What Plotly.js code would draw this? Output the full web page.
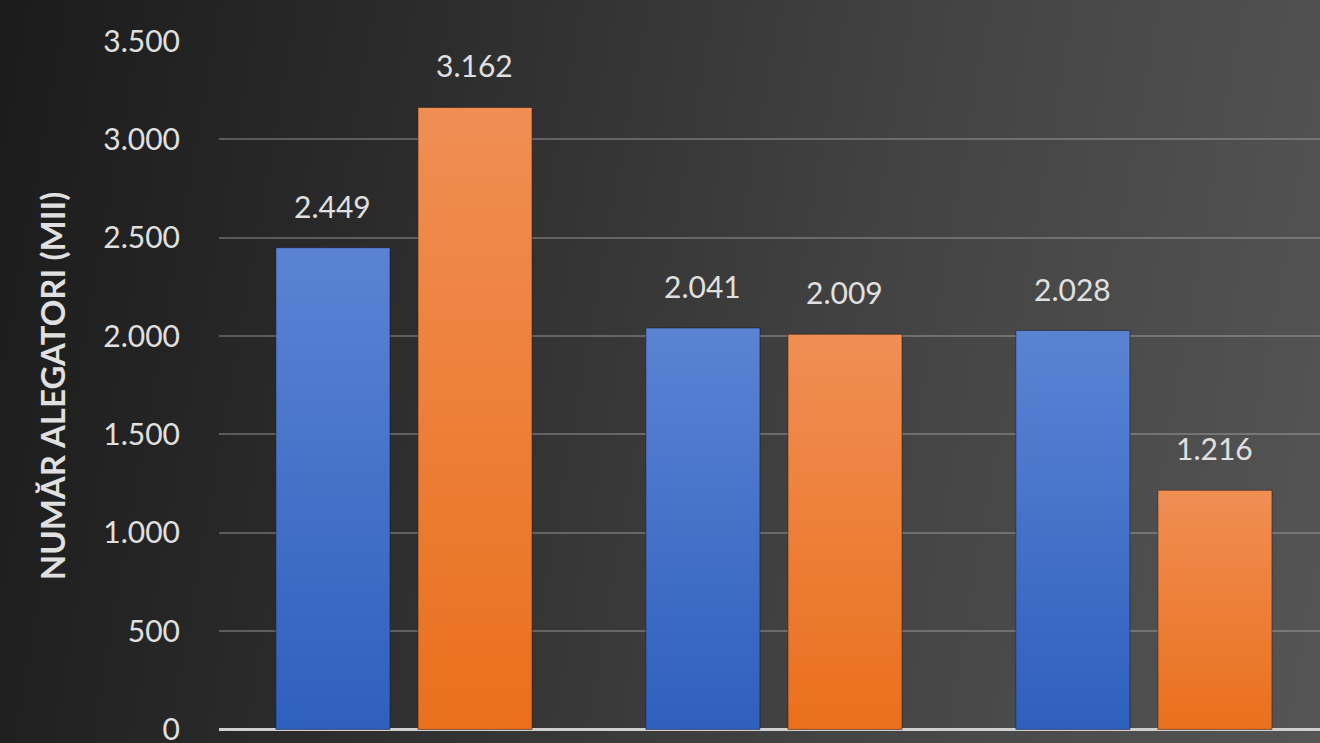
<!DOCTYPE html>
<html>
<head>
<meta charset="utf-8">
<script src="https://cdn.plot.ly/plotly-3.0.1.min.js"></script>
<style>
  html, body { margin:0; padding:0; width:1320px; height:743px; overflow:hidden;
    background: linear-gradient(100deg, #1b1b1b 0%, #2c2c2c 30%, #434343 65%, #555555 100%); }
  #chart { width:1320px; height:770px; }
</style>
</head>
<body>
<div id="chart"></div>
<script>
const categories = [0, 1, 2];
const seriesA = [2449, 2041, 2028];
const seriesB = [3162, 2009, 1216];
const yTicks = [0, 500, 1000, 1500, 2000, 2500, 3000, 3500];

const labelColor = '#e0e0e0';
const fontFam = 'Lato, "Open Sans", sans-serif';
const traces = [
  { type:'bar', x:categories, y:seriesA, name:'A', marker:{color:'#4472c4', line:{color:'rgba(20,20,40,0.5)', width:1}}, hoverinfo:'none' },
  { type:'bar', x:categories, y:seriesB, name:'B', marker:{color:'#ed7d31', line:{color:'rgba(40,20,10,0.5)', width:1}}, hoverinfo:'none' }
];

function fmt(v){ return String(v).replace(/\B(?=(\d{3})+(?!\d))/g, '.'); }
const annotations = [];
categories.forEach((c,i)=>{
  annotations.push({x:c, y:seriesA[i], text:fmt(seriesA[i]), showarrow:false, xshift:-71, yshift:22, yanchor:'bottom',
    font:{family:fontFam, size:30, color:labelColor}});
  annotations.push({x:c, y:seriesB[i], text:fmt(seriesB[i]), showarrow:false, xshift:71, yshift:22, yanchor:'bottom',
    font:{family:fontFam, size:30, color:labelColor}});
});

const layout = {
  width:1320, height:770,
  margin:{l:219, r:0, t:41, b:39, pad:0},
  paper_bgcolor:'rgba(0,0,0,0)', plot_bgcolor:'rgba(0,0,0,0)',
  separators:',.',
  barmode:'group', bargap:0.232, bargroupgap:0.197,
  showlegend:false,
  xaxis:{ range:[-0.5, 2.476], showticklabels:false, showgrid:false, zeroline:false,
    showline:false, fixedrange:true },
  yaxis:{ range:[-8, 3500], tickvals:yTicks, tickformat:',d', showgrid:true, gridcolor:'rgba(190,190,190,0.35)', gridwidth:2,
    zeroline:true, zerolinecolor:'#cfcfcf', zerolinewidth:3, showline:false, ticks:'', ticklabelstandoff:38,
    tickfont:{family:fontFam, size:30, color:labelColor},
    title:{ text:'NUMĂR ALEGATORI (MII)', standoff:27,
      font:{family:fontFam, size:33, color:labelColor, weight:'bold'} } },
  annotations: annotations
};

Plotly.newPlot('chart', traces, layout, {displayModeBar:false, staticPlot:true}).then(gd=>{
  const svg = gd.querySelector('svg.main-svg');
  const ns = 'http://www.w3.org/2000/svg';
  let defs = svg.querySelector('defs');
  function grad(id, top, bottom){
    const g = document.createElementNS(ns,'linearGradient');
    g.setAttribute('id', id); g.setAttribute('x1','0'); g.setAttribute('y1','0'); g.setAttribute('x2','0'); g.setAttribute('y2','1');
    [[0,top],[1,bottom]].forEach(([o,c])=>{
      const s = document.createElementNS(ns,'stop'); s.setAttribute('offset',o); s.setAttribute('stop-color',c); g.appendChild(s);
    });
    defs.appendChild(g);
  }
  grad('gBlue','#5b83d3','#2e60be');
  grad('gOrange','#f08e54','#ea701c');
  const groups = gd.querySelectorAll('g.trace.bars');
  groups.forEach((t,i)=>{
    t.querySelectorAll('path').forEach(p=>{ p.style.fill = i===0 ? 'url(#gBlue)' : 'url(#gOrange)'; });
  });
});
</script>
</body>
</html>
